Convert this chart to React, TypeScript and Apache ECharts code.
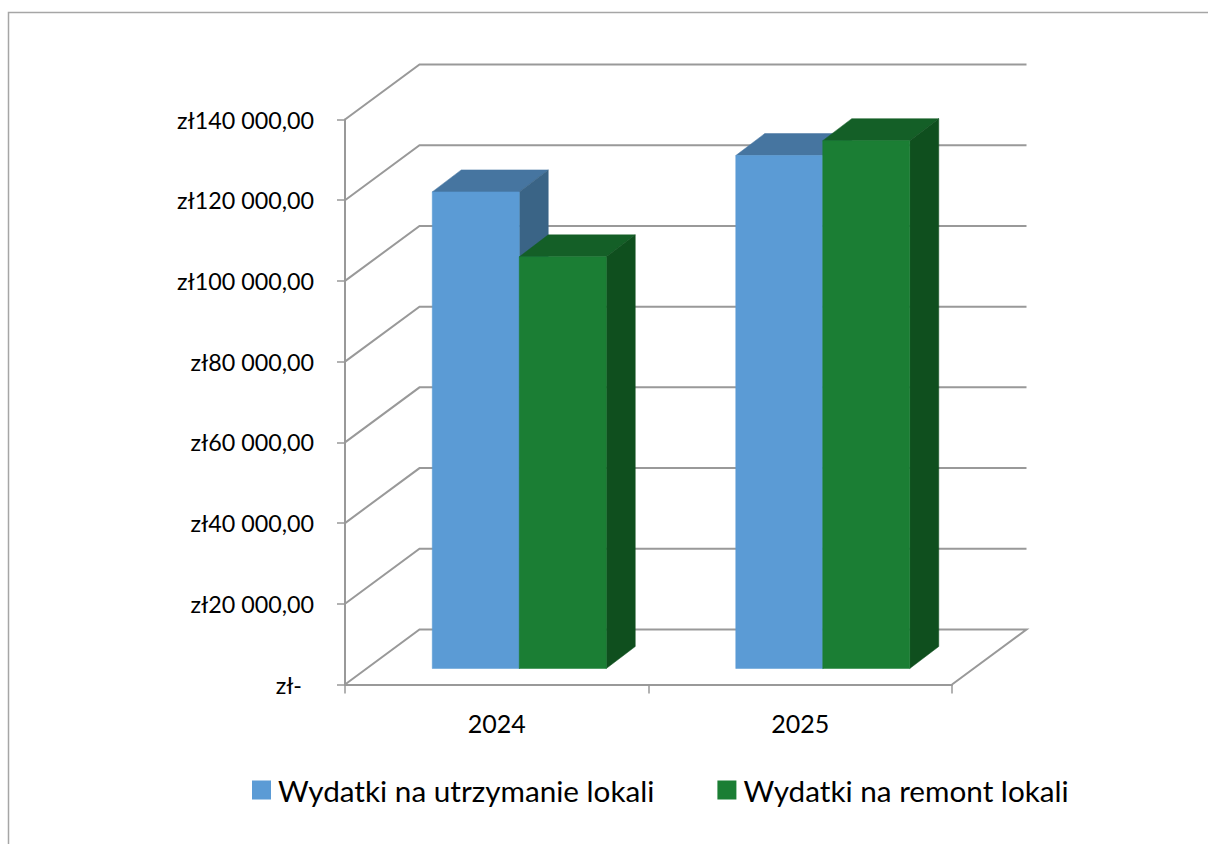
import React, { useEffect, useRef } from "react";
import * as echarts from "echarts";

const categories = ["2024", "2025"];
const utrzymanie = [118100, 127100];
const remont = [102000, 130800];
const wallTicks = [0, 20000, 40000, 60000, 80000, 100000, 120000, 140000];
const yLabels = ["zł-", "zł20 000,00", "zł40 000,00", "zł60 000,00", "zł80 000,00", "zł100 000,00", "zł120 000,00", "zł140 000,00"];
const seriesNames = ["Wydatki na utrzymanie lokali", "Wydatki na remont lokali"];

const FONT = "Lato, Carlito, sans-serif";
const LINE = "#999999";
const WALL_DX = 74.5;
const WALL_DY = 55;
const BAR_W = 87;
const BAR_DX = 29;
const BAR_DY = 22;
const FLOOR_DX = 22.5;
const FLOOR_DY = 16;

const barRender = (slot: number, front: string, top: string, side: string) => (params: any, api: any) => {
  const cat = api.value(0);
  const val = api.value(1);
  const p = api.coord([cat, val]);
  const b = api.coord([cat, 0]);
  const x0 = p[0] + FLOOR_DX + slot * BAR_W;
  const x1 = x0 + BAR_W;
  const yT = p[1] - FLOOR_DY;
  const yB = b[1] - FLOOR_DY;
  const poly = (points: number[][], fill: string) => ({
    type: "polygon",
    shape: { points },
    style: { fill, stroke: fill, lineWidth: 0.5 },
    silent: true,
  });
  return {
    type: "group",
    children: [
      poly([[x0, yT], [x0 + BAR_DX, yT - BAR_DY], [x1 + BAR_DX, yT - BAR_DY], [x1, yT]], top),
      poly([[x1, yT], [x1 + BAR_DX, yT - BAR_DY], [x1 + BAR_DX, yB - BAR_DY], [x1, yB]], side),
      poly([[x0, yT], [x1, yT], [x1, yB], [x0, yB]], front),
    ],
  };
};

const wallRender = (params: any, api: any) => {
  const v = api.value(1);
  const cs = params.coordSys;
  const y = api.coord([0, v])[1];
  const points = [
    [cs.x, y],
    [cs.x + WALL_DX, y - WALL_DY],
    [cs.x + cs.width + WALL_DX, y - WALL_DY],
  ];
  if (v === 0) points.push([cs.x + cs.width, y]);
  return {
    type: "polyline",
    shape: { points },
    style: { fill: "none", stroke: LINE, lineWidth: 2 },
    silent: true,
  };
};

export default function App() {
  const ref = useRef<HTMLDivElement>(null);
  useEffect(() => {
    const chart = echarts.init(ref.current!, null, { renderer: "svg" });
    chart.setOption({
      animation: false,
      backgroundColor: "#ffffff",
      tooltip: { show: false },
      grid: { left: 345, top: 119.5, width: 607, height: 565, containLabel: false },
      xAxis: {
        type: "category",
        data: categories,
        boundaryGap: true,
        axisLine: { lineStyle: { color: LINE, width: 2 } },
        axisTick: { show: true, length: 9, alignWithLabel: false, lineStyle: { color: LINE, width: 1.5 } },
        axisLabel: { color: "#000000", fontFamily: FONT, fontSize: 25, margin: 26 },
        splitLine: { show: false },
      },
      yAxis: {
        type: "value",
        min: 0,
        max: 140000,
        interval: 20000,
        axisLine: { show: true, lineStyle: { color: LINE, width: 2 } },
        axisTick: { show: true, length: 8, lineStyle: { color: LINE, width: 1.5 } },
        axisLabel: {
          color: "#000000",
          fontFamily: FONT,
          fontSize: 23.3,
          margin: 31,
          formatter: (v: number) => {
            const s = yLabels[Math.round(v / 20000)];
            return v === 0 ? `{zero|${s}}` : s;
          },
          rich: { zero: { color: "#000000", fontFamily: FONT, fontSize: 23.3, padding: [0, 12, 0, 0] } },
        },
        splitLine: { show: false },
      },
      legend: {
        show: true,
        data: seriesNames,
        left: 252,
        top: 775,
        padding: 0,
        icon: "rect",
        itemWidth: 19,
        itemHeight: 19,
        itemGap: 63,
        selectedMode: false,
        textStyle: { color: "#000000", fontFamily: FONT, fontSize: 29.7, padding: [0, 0, 0, 2] },
      },
      graphic: [
        {
          type: "polyline",
          silent: true,
          shape: { points: [[8.5, 844], [8.5, 12.5], [1208, 12.5]] },
          style: { fill: "none", stroke: "#a6a6a6", lineWidth: 1.5 },
        },
      ],
      series: [
        {
          type: "custom",
          name: "wall",
          coordinateSystem: "cartesian2d",
          clip: false,
          z: 1,
          silent: true,
          renderItem: wallRender,
          data: wallTicks.map((v) => [0, v]),
        },
        {
          type: "custom",
          name: seriesNames[0],
          coordinateSystem: "cartesian2d",
          clip: false,
          z: 3,
          silent: true,
          itemStyle: { color: "#5B9BD5" },
          renderItem: barRender(-1, "#5B9BD5", "#4675A0", "#3A6486"),
          data: utrzymanie.map((v, i) => [i, v]),
        },
        {
          type: "custom",
          name: seriesNames[1],
          coordinateSystem: "cartesian2d",
          clip: false,
          z: 4,
          silent: true,
          itemStyle: { color: "#1B7E34" },
          renderItem: barRender(0, "#1B7E34", "#145F27", "#0F4F1E"),
          data: remont.map((v, i) => [i, v]),
        },
      ],
    });
    return () => chart.dispose();
  }, []);
  return <div ref={ref} style={{ position: "absolute", left: 0, top: 0, width: 1208, height: 844 }} />;
}
